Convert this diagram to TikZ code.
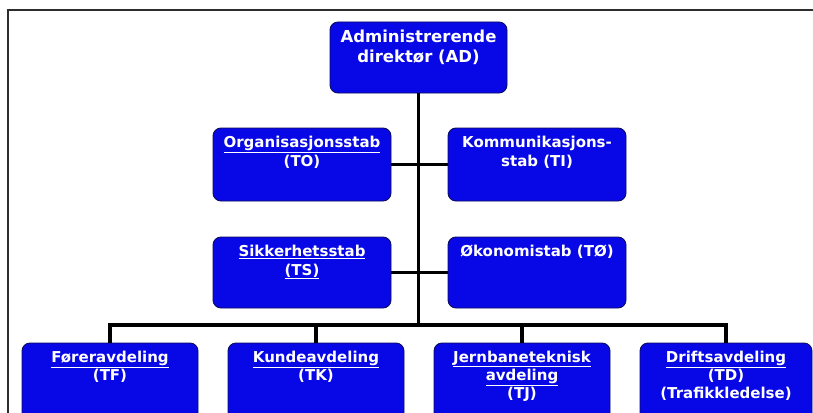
\documentclass[tikz,border=0pt]{standalone}
\usepackage{fontspec}
\setsansfont{DejaVu Sans}
\usetikzlibrary{positioning}
\definecolor{boxblue}{RGB}{8,8,230}
\definecolor{boxedge}{RGB}{12,12,95}
\definecolor{framegray}{RGB}{45,45,45}
\newcommand{\lnk}[1]{\underline{#1}}

\begin{document}
\begin{tikzpicture}[x=1pt,y=-1pt,line join=miter,
  orgbox/.style={draw=boxedge,line width=0.9,fill=boxblue,rounded corners=8pt,minimum width=178,minimum height=73,inner sep=0},
  orgtext/.style={anchor=north,inner sep=0,text=white,align=center,font=\sffamily\bfseries\fontsize{15}{19}\selectfont},
  link/.style={line width=3.3,black}]
\path[use as bounding box] (0,0) rectangle (813,412);
\clip (0,0) rectangle (813,412);
\draw [framegray,line width=1.8] (8,430)--(8,10)--(830,10);
% top
\node [orgbox,minimum width=177,minimum height=71] (ad) at (418.5,57.5) {};
\node [orgtext,font=\sffamily\bfseries\fontsize{16.5}{20.5}\selectfont] (ad-t) at ([yshift=-8]ad.north) {Administrerende\\direktør (AD)};
% staffs
\node [orgbox] (to) at (302,164.5) {};
\node [orgbox] (ti) at (537,164.5) {};
\node [orgbox,minimum height=71] (ts) at (302,272.5) {};
\node [orgbox,minimum height=71] (tø) at (537,272.5) {};
\node [orgtext] (to-t) at ([yshift=-8]to.north) {\lnk{Organisasjonsstab}\\(TO)};
\node [orgtext] (ti-t) at ([yshift=-8]ti.north) {Kommunikasjons-\\stab (TI)};
\node [orgtext] (ts-t) at ([yshift=-8]ts.north) {\lnk{Sikkerhetsstab}\\\lnk{(TS)}};
\node [orgtext] (tø-t) at ([yshift=-8]tø.north) {Økonomistab (TØ)};
% departments
\node [orgbox,minimum width=176,minimum height=82] (tf) at (110,384) {};
\node [orgbox,minimum width=176,minimum height=82] (tk) at (316,384) {};
\node [orgbox,minimum width=176,minimum height=82] (tj) at (522,384) {};
\node [orgbox,minimum width=172,minimum height=82] (td) at (726,384) {};
\tikzset{lower/.style={orgtext,font=\sffamily\bfseries\fontsize{15}{18}\selectfont}}
\node [lower] (tf-t) at ([yshift=-8]tf.north) {\lnk{Føreravdeling}\\(TF)};
\node [lower] (tk-t) at ([yshift=-8]tk.north) {\lnk{Kundeavdeling}\\(TK)};
\node [lower] (tj-t) at ([yshift=-8]tj.north) {\lnk{Jernbaneteknisk}\\\lnk{avdeling}\\(TJ)};
\node [lower] (td-t) at ([yshift=-8]td.north) {\lnk{Driftsavdeling}\\(TD)\\(Trafikkledelse)};
% lines
\coordinate (bus) at (419,325);
\draw [link] (ad.south)--(ad.south |- bus);
\draw [link] (to.east)--(ti.west);
\draw [link] (ts.east)--(tø.west);
\draw [link] (tf.north)--(tf.north |- bus)--(td.north |- bus)--(td.north);
\draw [link] (tk.north)--(tk.north |- bus);
\draw [link] (tj.north)--(tj.north |- bus);
\end{tikzpicture}
\end{document}
